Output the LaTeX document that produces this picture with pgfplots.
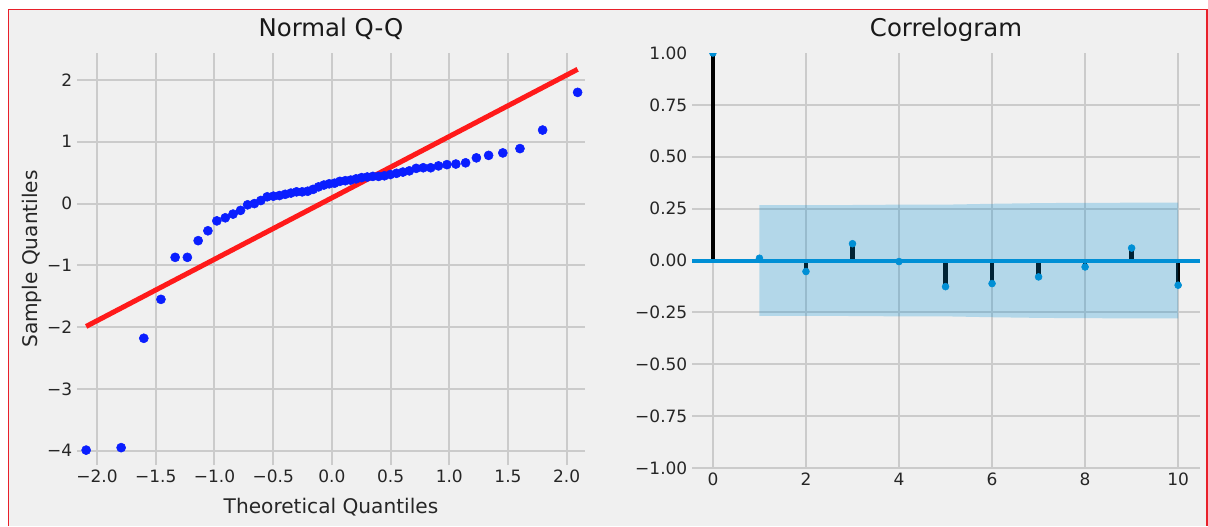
\documentclass[border=0pt]{standalone}
\usepackage{pgfplots}
\pgfplotsset{compat=1.18}
\usepackage{fontspec}
\setmainfont{DejaVu Sans}
\definecolor{bg}{HTML}{F0F0F0}
\definecolor{gridc}{HTML}{CBCBCB}
\definecolor{fte}{HTML}{008FD5}
\definecolor{txt}{HTML}{262626}
\definecolor{qqblue}{HTML}{0A1EFF}
\definecolor{qqred}{HTML}{FF1A1A}
\definecolor{frame}{HTML}{E8202A}

\pgfplotsset{
  common/.style={
    scale only axis,
    axis line style={draw=none},
    major tick length=0pt,
    grid=major,
    major grid style={gridc, line width=1.5pt},
    tick label style={font=\fontsize{12.75}{15}\selectfont, text=txt},
    label style={font=\fontsize{15.1}{18}\selectfont, text=txt},
    title style={font=\fontsize{18.3}{22}\selectfont, text=black!90, anchor=base},
  }
}

\begin{document}
\begin{tikzpicture}
\useasboundingbox (0pt,0pt) rectangle (906pt,-394.5pt);
\fill[white] (0pt,0pt) rectangle (906pt,-394.5pt);
\fill[bg] (6.375pt,-7.125pt) rectangle (905pt,-394.5pt);
\draw[frame, line width=1.3pt] (6.375pt,-394.5pt) -- (6.375pt,-7.125pt) -- (905pt,-7.125pt) -- (905pt,-394.5pt);

% ---------------- Normal Q-Q ----------------
\begin{axis}[common,
  at={(57.75pt,-348.75pt)}, anchor=south west,
  width=381pt, height=309pt,
  xmin=-2.171, xmax=2.156, ymin=-4.231, ymax=2.437,
  xtick={-2,-1.5,-1,-0.5,0,0.5,1,1.5,2},
  xticklabels={−2.0,−1.5,−1.0,−0.5,0.0,0.5,1.0,1.5,2.0},
  ytick={-4,-3,-2,-1,0,1,2},
  yticklabels={−4,−3,−2,−1,0,1,2},
  xlabel={Theoretical Quantiles},
  ylabel={Sample Quantiles},
  xlabel style={at={(axis description cs:0.5,-0.102)}, anchor=center},
  ylabel style={at={(axis description cs:-0.0886,0.5)}, anchor=center},
  title={Normal Q-Q},
  title style={at={(axis description cs:0.5,1.021)}},
]
\addplot[only marks, mark=*, mark size=3.4pt, qqblue] coordinates {
(-2.093,-3.99) (-1.795,-3.95) (-1.602,-2.18) (-1.456,-1.55) (-1.335,-0.87)
(-1.231,-0.87) (-1.139,-0.60) (-1.056,-0.44) (-0.980,-0.28) (-0.908,-0.23)
(-0.842,-0.17) (-0.778,-0.11) (-0.718,-0.02) (-0.660,0.00) (-0.605,0.05)
(-0.551,0.11) (-0.498,0.12) (-0.447,0.13) (-0.398,0.15) (-0.349,0.17)
(-0.301,0.19) (-0.253,0.19) (-0.206,0.20) (-0.160,0.23) (-0.114,0.27)
(-0.068,0.30) (-0.023,0.32) (0.023,0.33) (0.068,0.36) (0.114,0.37)
(0.160,0.38) (0.206,0.40) (0.253,0.42) (0.301,0.43) (0.349,0.44)
(0.398,0.44) (0.447,0.45) (0.498,0.47) (0.551,0.49) (0.605,0.51)
(0.660,0.53) (0.718,0.57) (0.778,0.58) (0.842,0.58) (0.908,0.61)
(0.980,0.63) (1.056,0.64) (1.139,0.66) (1.231,0.74) (1.335,0.78)
(1.456,0.82) (1.602,0.89) (1.795,1.19) (2.093,1.80)
};
\addplot[qqred, line width=3.75pt] coordinates {(-2.093,-1.988) (2.093,2.173)};
\end{axis}

% ---------------- Correlogram ----------------
\begin{axis}[common,
  at={(519pt,-351pt)}, anchor=south west,
  width=381pt, height=311.25pt,
  xmin=-0.45, xmax=10.47, ymin=-1, ymax=1,
  clip marker paths=true,
  xtick={0,2,4,6,8,10},
  xticklabels={0,2,4,6,8,10},
  ytick={-1,-0.75,-0.5,-0.25,0,0.25,0.5,0.75},
  yticklabels={−1.00,−0.75,−0.50,−0.25,0.00,0.25,0.50,0.75},
  extra y ticks={1},
  extra y tick labels={1.00},
  extra y tick style={grid=none},
  title={Correlogram},
  title style={at={(axis description cs:0.5,1.021)}},
]
\addplot[ycomb, black, line width=3.2pt] coordinates {
(0,1) (1,0.011) (2,-0.053) (3,0.081) (4,-0.005) (5,-0.126)
(6,-0.111) (7,-0.079) (8,-0.031) (9,0.060) (10,-0.119)
};
\addplot[fte, line width=3pt] coordinates {(-0.45,0) (10.47,0)};
\addplot[only marks, mark=*, mark size=2.6pt, fte] coordinates {
(0,1) (1,0.011) (2,-0.053) (3,0.081) (4,-0.005) (5,-0.126)
(6,-0.111) (7,-0.079) (8,-0.031) (9,0.060) (10,-0.119)
};
\addplot[draw=none, fill=fte, fill opacity=0.25] coordinates {
(1,0.2667) (2,0.2667) (3,0.2675) (4,0.2692) (5,0.2692) (6,0.2734)
(7,0.2765) (8,0.2782) (9,0.2784) (10,0.2793)
(10,-0.2793) (9,-0.2784) (8,-0.2782) (7,-0.2765) (6,-0.2734) (5,-0.2692)
(4,-0.2692) (3,-0.2675) (2,-0.2667) (1,-0.2667)
} -- cycle;
\end{axis}
\end{tikzpicture}
\end{document}
